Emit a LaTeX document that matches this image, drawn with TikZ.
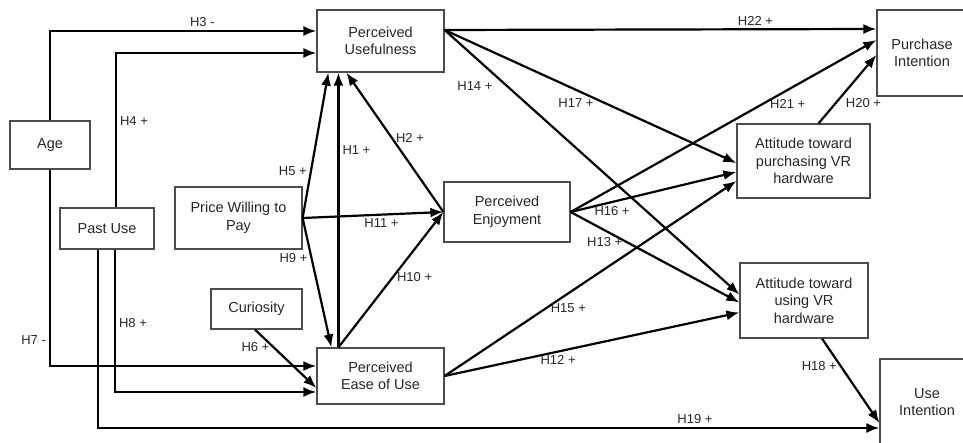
\documentclass[tikz,border=0pt]{standalone}
\usepackage{fontspec}
\setmainfont{Liberation Sans}
\usetikzlibrary{arrows.meta}

\begin{document}
\begin{tikzpicture}[x=1pt,y=-1pt,
    box/.style={draw=black!70, line width=1.2pt, align=center, text=black!85, inner sep=0pt, font=\fontsize{14.5}{17.5}\selectfont},
    hyp/.style={-{Latex[length=13pt,width=10pt]}, line width=2.2pt},
    hlab/.style={font=\fontsize{13}{15}\selectfont, text=black!85, inner sep=3pt}]
    \useasboundingbox (0,0) rectangle (963,443);

    \node[box, minimum width=80pt, minimum height=48pt] (Age) at (50,145) {Age};
    \node[box, minimum width=94pt, minimum height=41pt] (PastUse) at (107,228.5) {Past Use};
    \node[box, minimum width=127pt, minimum height=62pt] (Price) at (238.5,218) {Price Willing to\\Pay};
    \node[box, minimum width=91pt, minimum height=40pt] (Curiosity) at (256.5,309) {Curiosity};
    \node[box, minimum width=127pt, minimum height=62pt] (PU) at (380.5,41) {Perceived\\Usefulness};
    \node[box, minimum width=126pt, minimum height=60pt] (PE) at (507,212) {Perceived\\Enjoyment};
    \node[box, minimum width=127pt, minimum height=56pt] (PEOU) at (380.5,376) {Perceived\\Ease of Use};
    \node[box, minimum width=133pt, minimum height=74pt] (AttP) at (803.5,161) {Attitude toward\\purchasing VR\\hardware};
    \node[box, minimum width=128pt, minimum height=75pt] (AttU) at (804,300.5) {Attitude toward\\using VR\\hardware};
    \node[box, minimum width=90pt, minimum height=86pt] (PI) at (922,53) {Purchase\\Intention};
    \node[box, minimum width=94pt, minimum height=86pt] (UI) at (927,402) {Use\\Intention};

    \draw[hyp] (Age.north) |- node[hlab, above, pos=0.786] (h3) {H3 -} ([yshift=10pt]PU.west);
    \draw[hyp] ([xshift=9pt]PastUse.north) |- node[hlab, right, pos=0.28] (h4) {H4 +} ([yshift=-12pt]PU.west);
    \draw[hyp] (Age.south) |- node[hlab, left, pos=0.434] (h7) {H7 -} ([yshift=10pt]PEOU.west);
    \draw[hyp] ([xshift=8pt]PastUse.south) |- node[hlab, right, pos=0.259] (h8) {H8 +} ([yshift=-16pt]PEOU.west);
    \draw[hyp] ([xshift=-9pt]PastUse.south) |- node[hlab, above, pos=0.882] (h19) {H19 +} ([yshift=-26pt]UI.west);
    \draw[hyp] ([xshift=-1.5pt]Curiosity.south) -- node[hlab, left, pos=0.3] (h6) {H6 +} ([yshift=-12pt]PEOU.west);

    \draw[hyp] (Price.east) -- node[hlab, left, pos=0.32] (h5) {H5 +} ([xshift=12pt]PU.south west);
    \draw[hyp] (Price.east) -- node[hlab, left, pos=0.31] (h9) {H9 +} ([xshift=15pt]PEOU.north west);
    \draw[hyp] (Price.east) -- node[hlab, below, pos=0.56] (h11) {H11 +} (PE.west);
    \draw[hyp] ([xshift=22pt]PEOU.north west) -- node[hlab, right, pos=0.72] (h1) {H1 +} ([xshift=22pt]PU.south west);
    \draw[hyp] (PE.west) -- node[hlab, right, pos=0.53] (h2) {H2 +} ([xshift=30pt]PU.south west);
    \draw[hyp] ([xshift=22pt]PEOU.north west) -- node[hlab, right, pos=0.52] (h10) {H10 +} (PE.west);

    \draw[hyp] ([yshift=11pt]PU.east) -- node[hlab, above, pos=0.72] (h22) {H22 +} ([yshift=24pt]PI.west);
    \draw[hyp] ([yshift=11pt]PU.east) -- node[hlab, left, xshift=-10pt, pos=0.21] (h14) {H14 +} ([yshift=6pt]AttU.west);
    \draw[hyp] ([yshift=11pt]PU.east) -- node[hlab, below, yshift=-5pt, pos=0.45] (h17) {H17 +} ([yshift=-2pt]AttP.west);
    \draw[hyp] (PE.east) -- node[hlab, below, pos=0.25] (h16) {H16 +} ([yshift=-11pt]AttP.west);
    \draw[hyp] (PE.east) -- node[hlab, left, pos=0.33] (h13) {H13 +} ([yshift=-2pt]AttU.west);
    \draw[hyp] (PE.east) -- node[hlab, below, yshift=-5pt, pos=0.71] (h21) {H21 +} ([yshift=13pt]PI.west);
    \draw[hyp] (PEOU.east) -- node[hlab, below, pos=0.385] (h12) {H12 +} ([yshift=-12pt]AttU.west);
    \draw[hyp] (PEOU.east) -- node[hlab, right, pos=0.35] (h15) {H15 +} ([yshift=-20pt]AttP.west);
    \draw[hyp] ([xshift=15pt]AttP.north) -- node[hlab, right, xshift=6pt, pos=0.3] (h20) {H20 +} ([yshift=-2pt]PI.west);
    \draw[hyp] ([xshift=18pt]AttU.south) -- node[hlab, left, pos=0.33] (h18) {H18 +} ([yshift=-21pt]UI.west);
\end{tikzpicture}
\end{document}
